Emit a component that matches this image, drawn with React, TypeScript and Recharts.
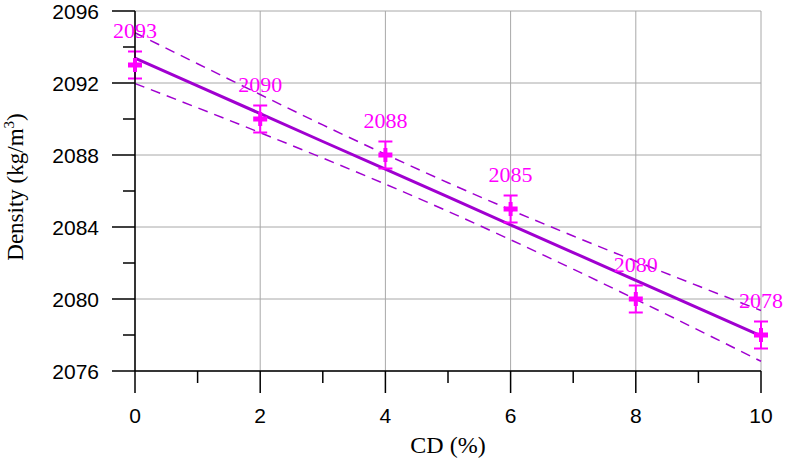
import React from 'react';
import {
  ComposedChart,
  Line,
  Scatter,
  ErrorBar,
  XAxis,
  YAxis,
  ReferenceLine,
  Label,
} from 'recharts';

// measured points
const cdValues = [0, 2, 4, 6, 8, 10];
const densityValues = [2093, 2090, 2088, 2085, 2080, 2078];
const densityErrors = [0.75, 0.75, 0.75, 0.75, 0.75, 0.75];

// fitted line and dashed confidence band
const fitX = [0, 1, 2, 3, 4, 5, 6, 7, 8, 9, 10];
const fitValues = [2093.38, 2091.84, 2090.3, 2088.75, 2087.21, 2085.67, 2084.12, 2082.58, 2081.04, 2079.49, 2077.95];
const upperValues = [2094.79, 2093.07, 2091.36, 2089.67, 2088.04, 2086.46, 2084.95, 2083.5, 2082.1, 2080.72, 2079.36];
const lowerValues = [2091.97, 2090.62, 2089.24, 2087.83, 2086.38, 2084.87, 2083.29, 2081.66, 2079.98, 2078.27, 2076.54];

const xTicks = [0, 1, 2, 3, 4, 5, 6, 7, 8, 9, 10];
const xMajor = [0, 2, 4, 6, 8, 10];
const yTicks = [2076, 2078, 2080, 2082, 2084, 2086, 2088, 2090, 2092, 2094, 2096];
const yMajor = [2076, 2080, 2084, 2088, 2092, 2096];

const lineData = fitX.map((x, i) => ({ x, fit: fitValues[i], upper: upperValues[i], lower: lowerValues[i] }));
const pointData = cdValues.map((x, i) => ({ x, y: densityValues[i], err: densityErrors[i] }));

const MAGENTA = '#ff00ff';
const PURPLE = '#a000d0';
const GRID = '#a8a8a8';
const SANS = '"Liberation Sans", Arial, sans-serif';
const SERIF = '"Liberation Serif", "Times New Roman", serif';

const XTick = (props: any) => {
  const { x, y, payload } = props;
  const major = xMajor.includes(payload.value);
  return (
    <g>
      <line x1={x} y1={y} x2={x} y2={y + (major ? 22 : 12)} stroke="#000" strokeWidth={1.5} />
      {major && (
        <text x={x} y={y + 52} textAnchor="middle" fontFamily={SANS} fontSize={21} fill="#000">
          {payload.value}
        </text>
      )}
    </g>
  );
};

const YTick = (props: any) => {
  const { x, y, payload } = props;
  const major = yMajor.includes(payload.value);
  return (
    <g>
      <line x1={x} y1={y} x2={x - (major ? 23 : 12)} y2={y} stroke="#000" strokeWidth={1.5} />
      {major && (
        <text x={x - 36} y={y + 8} textAnchor="end" fontFamily={SANS} fontSize={21} fill="#000">
          {payload.value}
        </text>
      )}
    </g>
  );
};

const PlusPoint = (props: any) => {
  const { cx, cy, payload } = props;
  if (cx == null || cy == null) return null;
  return (
    <g>
      <rect x={cx - 7} y={cy - 2.5} width={14} height={5} fill={MAGENTA} />
      <rect x={cx - 2} y={cy - 7} width={4} height={14} fill={MAGENTA} />
      <text x={cx} y={cy - 27} textAnchor="middle" fontFamily={SERIF} fontSize={22} fill={MAGENTA}>
        {payload.y}
      </text>
    </g>
  );
};

const YTitle = (props: any) => {
  const { viewBox } = props;
  const cy = viewBox.y + viewBox.height / 2 - 4;
  return (
    <text
      x={23}
      y={cy}
      transform={`rotate(-90, 23, ${cy})`}
      textAnchor="middle"
      fontFamily={SERIF}
      fontSize={23}
      fill="#000"
    >
      Density (kg/m
      <tspan dy={-9} fontSize={15}>3</tspan>
      <tspan dy={9}>)</tspan>
    </text>
  );
};

const XTitle = (props: any) => {
  const { viewBox } = props;
  return (
    <text
      x={viewBox.x + viewBox.width / 2}
      y={453}
      textAnchor="middle"
      fontFamily={SERIF}
      fontSize={24}
      fill="#000"
    >
      CD (%)
    </text>
  );
};

export default function App() {
  return (
    <div style={{ position: 'absolute', left: 0, top: 0, background: '#fff' }}>
      <ComposedChart
        width={786}
        height={470}
        data={lineData}
        margin={{ top: 11, right: 25, bottom: 0, left: 0 }}
      >
        {yMajor.map((v) => (
          <ReferenceLine key={`h${v}`} y={v} stroke={GRID} strokeWidth={1} />
        ))}
        {xMajor.map((v) => (
          <ReferenceLine key={`v${v}`} x={v} stroke={GRID} strokeWidth={1} />
        ))}
        <XAxis
          dataKey="x"
          type="number"
          domain={[0, 10]}
          ticks={xTicks}
          interval={0}
          height={99}
          tickSize={0}
          tickMargin={0}
          tickLine={false}
          axisLine={{ stroke: '#000', strokeWidth: 1.5 }}
          tick={<XTick />}
        >
          <Label content={<XTitle />} />
        </XAxis>
        <YAxis
          type="number"
          domain={[2076, 2096]}
          ticks={yTicks}
          interval={0}
          width={135}
          tickSize={0}
          tickMargin={0}
          tickLine={false}
          axisLine={{ stroke: '#000', strokeWidth: 1.5 }}
          tick={<YTick />}
        >
          <Label content={<YTitle />} />
        </YAxis>
        <Line
          dataKey="upper"
          type="monotone"
          stroke={PURPLE}
          strokeWidth={1.5}
          strokeDasharray="10 7"
          dot={false}
          activeDot={false}
          isAnimationActive={false}
        />
        <Line
          dataKey="lower"
          type="monotone"
          stroke={PURPLE}
          strokeWidth={1.5}
          strokeDasharray="10 7"
          dot={false}
          activeDot={false}
          isAnimationActive={false}
        />
        <Line
          dataKey="fit"
          type="linear"
          stroke={PURPLE}
          strokeWidth={3}
          dot={false}
          activeDot={false}
          isAnimationActive={false}
        />
        <Scatter data={pointData} dataKey="y" shape={<PlusPoint />} isAnimationActive={false}>
          <ErrorBar dataKey="err" direction="y" width={7} stroke={MAGENTA} strokeWidth={2} />
        </Scatter>
      </ComposedChart>
    </div>
  );
}
